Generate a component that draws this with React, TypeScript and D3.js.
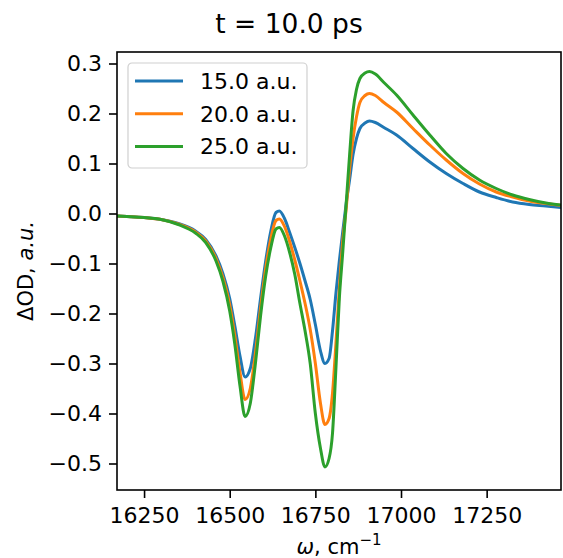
import { useEffect, useRef } from "react";
import * as d3 from "d3";

// wavenumber grid (cm^-1)
const wavenumbers = [
  16170, 16200, 16250, 16300, 16350, 16400, 16430, 16460, 16480, 16500, 16515,
  16530, 16545, 16560, 16575, 16590, 16605, 16620, 16635, 16645, 16660, 16675,
  16690, 16705, 16720, 16735, 16750, 16765, 16778, 16790, 16800, 16810, 16820,
  16830, 16840, 16850, 16860, 16870, 16880, 16895, 16908, 16925, 16950, 16987,
  17035, 17084, 17132, 17181, 17229, 17278, 17326, 17374, 17423, 17467,
];

const od15 = [
  -0.005, -0.006, -0.008, -0.012, -0.02, -0.035, -0.052, -0.085, -0.12, -0.17,
  -0.225, -0.285, -0.327, -0.31, -0.25, -0.17, -0.095, -0.035, 0.002, 0.005,
  -0.01, -0.038, -0.068, -0.1, -0.135, -0.172, -0.222, -0.275, -0.3, -0.29,
  -0.235, -0.16, -0.095, -0.036, 0.02, 0.068, 0.118, 0.15, 0.17, 0.181, 0.185,
  0.182, 0.172, 0.157, 0.13, 0.103, 0.08, 0.06, 0.043, 0.032, 0.023, 0.018,
  0.015, 0.012,
];

const od20 = [
  -0.005, -0.006, -0.008, -0.012, -0.021, -0.037, -0.055, -0.09, -0.128, -0.183,
  -0.245, -0.318, -0.372, -0.35, -0.28, -0.19, -0.11, -0.05, -0.014, -0.011,
  -0.026, -0.056, -0.093, -0.135, -0.18, -0.232, -0.3, -0.38, -0.422, -0.41,
  -0.36, -0.26, -0.15, -0.055, 0.01, 0.09, 0.15, 0.193, 0.222, 0.236, 0.24,
  0.236, 0.222, 0.203, 0.17, 0.137, 0.107, 0.08, 0.059, 0.043, 0.033, 0.025,
  0.02, 0.016,
];

const od25 = [
  -0.005, -0.006, -0.008, -0.012, -0.022, -0.039, -0.058, -0.095, -0.135, -0.195,
  -0.262, -0.345, -0.406, -0.38, -0.3, -0.205, -0.125, -0.068, -0.031, -0.028,
  -0.045, -0.078, -0.122, -0.18, -0.235, -0.3, -0.4, -0.47, -0.507, -0.49,
  -0.44, -0.31, -0.17, -0.077, 0.02, 0.118, 0.205, 0.248, 0.27, 0.281, 0.284,
  0.279, 0.262, 0.237, 0.197, 0.157, 0.12, 0.09, 0.067, 0.05, 0.037, 0.028,
  0.021, 0.017,
];

const seriesLabels = ["15.0 a.u.", "20.0 a.u.", "25.0 a.u."];
const seriesColors = ["#1f77b4", "#ff7f0e", "#2ca02c"];
const xTicks = [16250, 16500, 16750, 17000, 17250];
const yTicks = [0.3, 0.2, 0.1, 0.0, -0.1, -0.2, -0.3, -0.4, -0.5];

const FONT = "'DejaVu Sans', sans-serif";

export default function App() {
  const ref = useRef<SVGSVGElement | null>(null);

  useEffect(() => {
    const W = 563;
    const H = 558;
    const m = { top: 52, right: 2, bottom: 68, left: 117 };
    const iw = W - m.left - m.right;
    const ih = H - m.top - m.bottom;

    const svg = d3.select(ref.current);
    svg.selectAll("*").remove();

    const x = d3.scaleLinear().domain([16171, 17467]).range([0, iw]);
    const y = d3.scaleLinear().domain([-0.553, 0.323]).range([ih, 0]);

    const g = svg.append("g").attr("transform", `translate(${m.left},${m.top})`);

    // clip for the curves
    svg
      .append("clipPath")
      .attr("id", "plot-clip")
      .append("rect")
      .attr("width", iw)
      .attr("height", ih);

    const series = [od15, od20, od25];
    const line = d3
      .line<number>()
      .x((_, i) => x(wavenumbers[i]))
      .y((d) => y(d))
      .curve(d3.curveMonotoneX);

    const plot = g.append("g").attr("clip-path", "url(#plot-clip)");
    series.forEach((s, k) => {
      plot
        .append("path")
        .attr("d", line(s))
        .attr("fill", "none")
        .attr("stroke", seriesColors[k])
        .attr("stroke-width", 3)
        .attr("stroke-linejoin", "round");
    });

    // axes
    const xAxis = g
      .append("g")
      .attr("transform", `translate(0,${ih})`)
      .call(
        d3.axisBottom(x).tickValues(xTicks).tickFormat(d3.format("d")).tickSize(8).tickPadding(9).tickSizeOuter(0)
      );
    const yAxis = g
      .append("g")
      .call(
        d3.axisLeft(y).tickValues(yTicks).tickFormat(d3.format(".1f")).tickSize(8).tickPadding(7).tickSizeOuter(0)
      );
    [xAxis, yAxis].forEach((a) => {
      a.select(".domain").remove();
      a.selectAll("line").attr("stroke", "#000").attr("stroke-width", 1.6);
      a.selectAll("text")
        .attr("fill", "#000")
        .style("font-family", FONT)
        .style("font-size", "22px");
    });

    // frame
    g.append("rect")
      .attr("width", iw)
      .attr("height", ih)
      .attr("fill", "none")
      .attr("stroke", "#000")
      .attr("stroke-width", 1.6);

    // legend
    const lg = g.append("g").attr("transform", "translate(11,11)");
    lg.append("rect")
      .attr("width", 179)
      .attr("height", 105)
      .attr("rx", 4)
      .attr("fill", "#fff")
      .attr("fill-opacity", 0.8)
      .attr("stroke", "#d0d0d0")
      .attr("stroke-width", 1.2);
    seriesLabels.forEach((lab, k) => {
      const cy = 18 + k * 32.7;
      lg.append("line")
        .attr("x1", 7)
        .attr("x2", 55)
        .attr("y1", cy)
        .attr("y2", cy)
        .attr("stroke", seriesColors[k])
        .attr("stroke-width", 3);
      lg.append("text")
        .attr("x", 72)
        .attr("y", cy + 8)
        .attr("fill", "#000")
        .style("font-family", FONT)
        .style("font-size", "22px")
        .text(lab);
    });

    // title
    svg
      .append("text")
      .attr("x", 289)
      .attr("y", 33)
      .attr("text-anchor", "middle")
      .attr("fill", "#000")
      .style("font-family", FONT)
      .style("font-size", "26.5px")
      .text("t = 10.0 ps");

    // x label
    const xl = svg
      .append("text")
      .attr("x", m.left + iw / 2)
      .attr("y", 554)
      .attr("text-anchor", "middle")
      .attr("fill", "#000")
      .style("font-family", FONT)
      .style("font-size", "21px");
    xl.append("tspan").style("font-style", "italic").text("ω");
    xl.append("tspan").text(", cm");
    xl.append("tspan").attr("dy", -9).style("font-size", "15px").text("−1");

    // y label
    const yl = svg
      .append("text")
      .attr("transform", `translate(33,${m.top + ih / 2}) rotate(-90)`)
      .attr("text-anchor", "middle")
      .attr("fill", "#000")
      .style("font-family", FONT)
      .style("font-size", "21px");
    yl.append("tspan").text("ΔOD, ");
    yl.append("tspan").style("font-style", "italic").text("a.u.");
  }, []);

  return (
    <svg
      ref={ref}
      width={563}
      height={558}
      style={{ position: "absolute", left: 0, top: 0, background: "#fff" }}
    />
  );
}
